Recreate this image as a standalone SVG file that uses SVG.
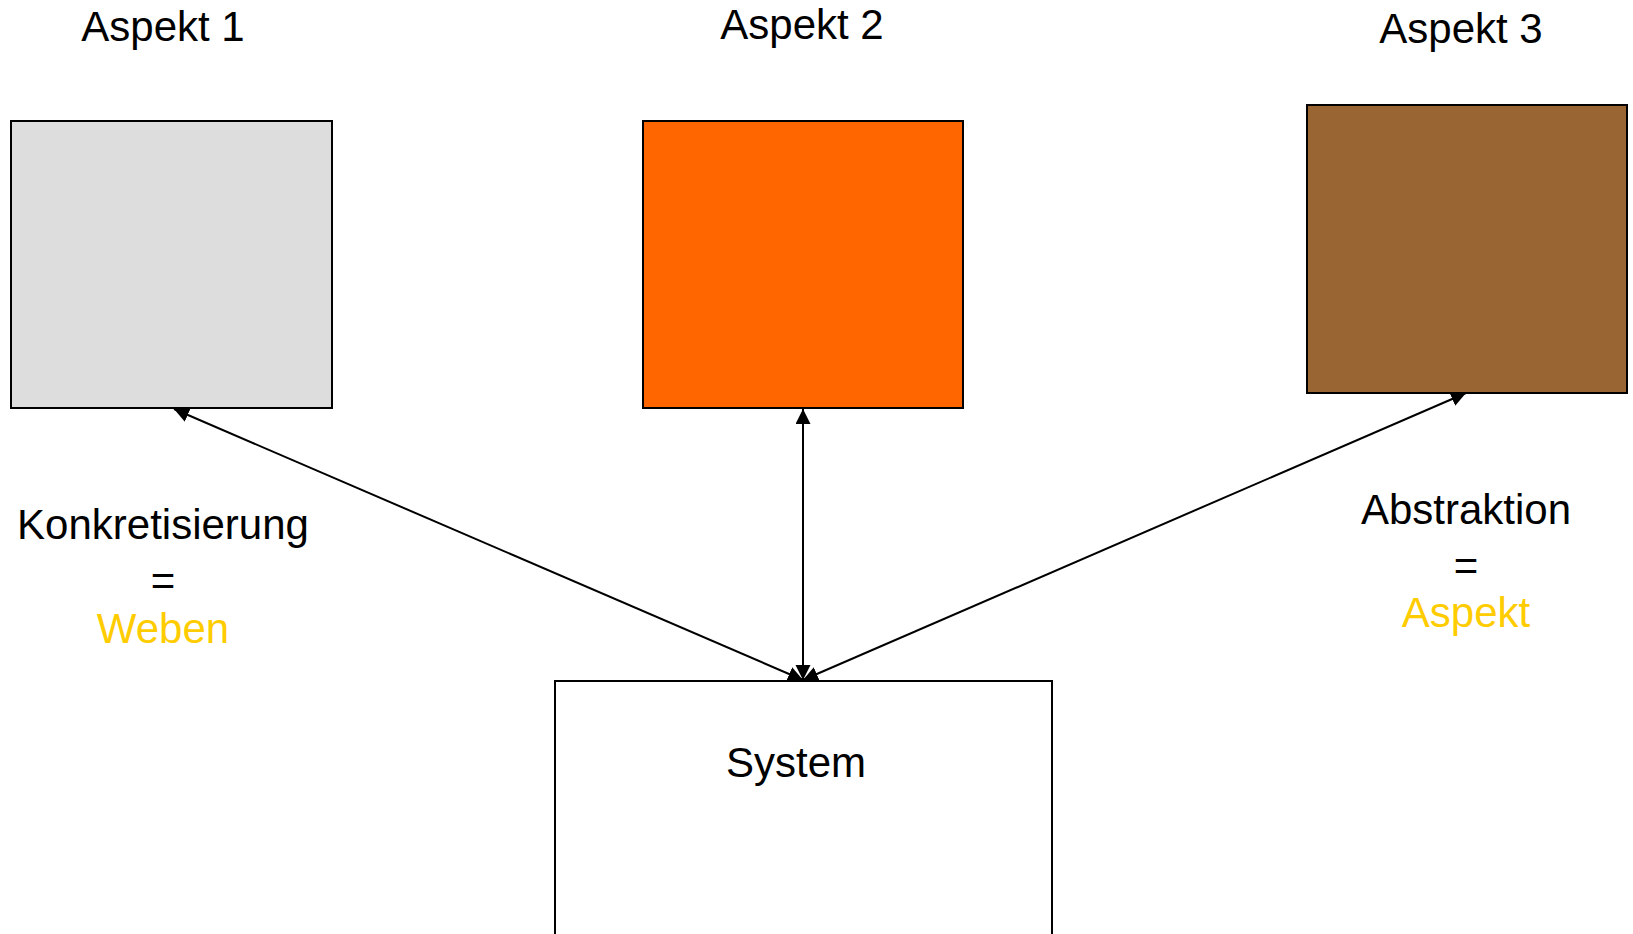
<svg xmlns="http://www.w3.org/2000/svg" width="1633" height="934" viewBox="0 0 1633 934">
  <style>
    .box { stroke: #000000; stroke-width: 2; }
    .label { font-family: "Liberation Sans", Arial, sans-serif; font-size: 42px; fill: #000000; text-anchor: middle; }
    .accent { fill: #FFCC00; }
    .conn { stroke: #000000; stroke-width: 2; fill: none; marker-start: url(#arrow); marker-end: url(#arrow); }
  </style>
  <defs>
    <marker id="arrow" markerUnits="userSpaceOnUse" markerWidth="16" markerHeight="16" refX="15" refY="7.5" orient="auto-start-reverse">
      <path d="M0,0 L15,7.5 L0,15 z" fill="#000000"/>
    </marker>
  </defs>
  <rect width="1633" height="934" fill="#ffffff"/>

  <g id="aspekt1">
    <rect class="box" x="11" y="121" width="321" height="287" fill="#DDDDDD"/>
    <text class="label" x="163" y="41">Aspekt 1</text>
  </g>

  <g id="aspekt2">
    <rect class="box" x="643" y="121" width="320" height="287" fill="#FF6600"/>
    <text class="label" x="802" y="39">Aspekt 2</text>
  </g>

  <g id="aspekt3">
    <rect class="box" x="1307" y="105" width="320" height="288" fill="#996633"/>
    <text class="label" x="1461" y="43">Aspekt 3</text>
  </g>

  <g id="system">
    <rect class="box" x="555" y="681" width="497" height="270" fill="#ffffff"/>
    <text class="label" x="796" y="777">System</text>
  </g>

  <g id="konkretisierung">
    <text class="label" x="163" y="539">Konkretisierung</text>
    <text class="label" x="163" y="595">=</text>
    <text class="label accent" x="163" y="643">Weben</text>
  </g>

  <g id="abstraktion">
    <text class="label" x="1466" y="524">Abstraktion</text>
    <text class="label" x="1466" y="580">=</text>
    <text class="label accent" x="1466" y="627">Aspekt</text>
  </g>

  <g id="connectors">
    <line class="conn" x1="803" y1="680" x2="174" y2="409"/>
    <line class="conn" x1="803" y1="680" x2="803" y2="409"/>
    <line class="conn" x1="803" y1="680" x2="1466" y2="393"/>
  </g>
</svg>
